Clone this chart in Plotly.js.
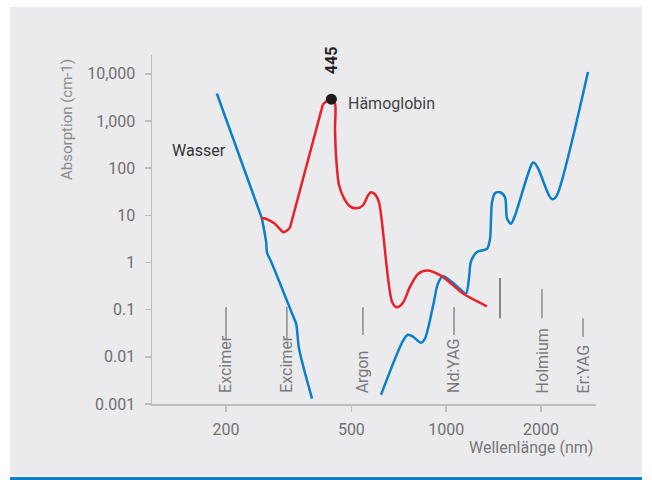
<!DOCTYPE html>
<html>
<head>
<meta charset="utf-8">
<script src="https://cdn.plot.ly/plotly-3.0.1.min.js"></script>
<style>html,body{margin:0;padding:0;background:#fff;}#chart{width:652px;height:480px;}</style>
</head>
<body>
<div id="chart"></div>
<script>
// Wasser (water) absorption, UV part
const waterUvX = [187, 260, 268, 270, 278, 326, 334, 341, 375];
const waterUvY = [3830, 8.6, 2.8, 1.6, 1.05, 0.075, 0.05, 0.015, 0.0013];
// Wasser (water) absorption, visible / IR part
const waterIrX = [621, 729, 756, 785, 832, 856, 908, 942, 977, 1043, 1106, 1156, 1182, 1198, 1252, 1347, 1377, 1387, 1398, 1428, 1482, 1537, 1560, 1606, 1654, 1873, 1900, 1956, 2136, 2183, 2247, 2819];
const waterIrY = [0.00157, 0.0219, 0.0294, 0.0267, 0.0199, 0.0242, 0.118, 0.364, 0.51, 0.385, 0.275, 0.22, 0.48, 1.05, 1.67, 1.94, 3.09, 7.7, 18.9, 29.4, 30.8, 24.2, 8.58, 6.64, 10, 125, 131, 100, 24.2, 21.9, 26.7, 11000];
// Hämoglobin absorption
const hbX = [258, 266, 286, 305, 319, 406, 431, 443.6, 443.7, 447, 457, 474, 495, 518, 544, 565, 577, 594, 612, 673, 698, 729, 768, 814, 869, 970, 1131, 1347];
const hbY = [8.6, 8.6, 6.6, 4.4, 5.4, 2260, 3015, 2371, 697, 180, 43.5, 23, 15.5, 14.1, 16.3, 26.7, 30.8, 28, 18.9, 0.148, 0.112, 0.14, 0.307, 0.57, 0.675, 0.51, 0.22, 0.118];
// Peak marker
const peakX = [432];
const peakY = [2900];
const peakLabel = "445";
// Laser wavelengths (vertical markers)
const laserNames = ["Excimer", "Excimer", "Argon", "Nd:YAG", "", "Holmium", "Er:YAG"];
const laserX = [200, 312, 544, 1059, 1482, 2014, 2718];
// Axis ticks
const xTickVals = [200, 500, 1000, 2000];
const xTickText = ["200", "500", "1000", "2000"];
const yTickVals = [0.001, 0.01, 0.1, 1, 10, 100, 1000, 10000];
const yTickText = ["0.001", "0.01", "0.1", "1", "10", "100", "1,000", "10,000"];

const BLUE = "#0a80c8", RED = "#e8212b";
const FONT = "Roboto, 'Noto Sans', sans-serif";

// marker line extents in paper coords (top, bottom)
const laserLineTop = [0.278, 0.278, 0.278, 0.278, 0.361, 0.330, 0.246];
const laserLineBot = [0.183, 0.183, 0.198, 0.198, 0.246, 0.246, 0.192];
const laserLineCol = ["#8a8a8a", "#8a8a8a", "#8a8a8a", "#8a8a8a", "#666", "#8a8a8a", "#8a8a8a"];

// draw a curve in pieces: straight runs as linear, the rest as spline
function pieces(xs, ys, color, parts) {
  return parts.map(([a, b, shape]) => ({
    x: xs.slice(a, b + 1), y: ys.slice(a, b + 1), mode: "lines", hoverinfo: "skip",
    line: {color: color, width: 2.5, shape: shape, smoothing: 0.8}
  }));
}

const traces = [].concat(
  pieces(waterUvX, waterUvY, BLUE, [[0, 1, "linear"], [1, waterUvX.length - 1, "spline"]]),
  pieces(waterIrX, waterIrY, BLUE, [[0, waterIrX.length - 1, "spline"]]),
  pieces(hbX, hbY, RED, [[0, 4, "spline"], [4, 5, "linear"], [5, hbX.length - 1, "spline"]]),
  [{x: peakX, y: peakY, mode: "markers", marker: {color: "#1a1a1a", size: 11}, hoverinfo: "skip"}]
);

const shapes = [
  {type: "rect", xref: "paper", yref: "paper", x0: -0.3198, x1: 1.1036, y0: -0.2063, y1: 1.1375, fillcolor: "#ebebed", line: {width: 0}, layer: "below"},
  {type: "rect", xref: "paper", yref: "paper", x0: -0.3198, x1: 1.1036, y0: -0.2178, y1: -0.2092, fillcolor: "#0a80c8", line: {width: 0}, layer: "below"}
];
const annotations = [
  {text: "Absorption (cm-1)", xref: "paper", yref: "paper", x: -0.1914, y: 0.814, textangle: -90, showarrow: false, font: {family: FONT, size: 15, color: "#8a8a8a"}, xanchor: "center", yanchor: "middle"},
  {text: "Wellenlänge (nm)", xref: "paper", yref: "paper", x: 0.998, y: -0.126, showarrow: false, font: {family: FONT, size: 16, color: "#777"}, xanchor: "right", yanchor: "middle"},
  {text: "Wasser", xref: "paper", yref: "paper", x: 0.106, y: 0.725, showarrow: false, font: {family: FONT, size: 16, color: "#333"}, xanchor: "center", yanchor: "middle"},
  {text: "Hämoglobin", xref: "paper", yref: "paper", x: 0.437, y: 0.86, showarrow: false, font: {family: FONT, size: 16, color: "#444"}, xanchor: "left", yanchor: "middle"},
  {text: "<b>" + peakLabel + "</b>", xref: "paper", yref: "paper", x: 0.403, y: 0.985, textangle: -90, showarrow: false, font: {family: FONT, size: 16, color: "#222"}, xanchor: "center", yanchor: "middle"}
];
laserX.forEach((wl, i) => {
  shapes.push({type: "line", xref: "x", yref: "paper", x0: wl, x1: wl, y0: laserLineBot[i], y1: laserLineTop[i], line: {color: laserLineCol[i], width: 1.5}});
  if (laserNames[i]) {
    annotations.push({text: laserNames[i], xref: "x", yref: "paper", x: Math.log10(wl), y: 0.026, textangle: -90, showarrow: false,
      font: {family: FONT, size: 16, color: "#7a7a7a"}, xanchor: "center", yanchor: "bottom"});
  }
});

const layout = {
  width: 652, height: 480,
  margin: {l: 152, r: 56, t: 55, b: 76},
  paper_bgcolor: "#ffffff",
  plot_bgcolor: "rgba(0,0,0,0)",
  showlegend: false,
  font: {family: FONT},
  xaxis: {
    type: "log", range: [2.066, 3.4756], tickvals: xTickVals, ticktext: xTickText,
    showgrid: false, zeroline: false, showline: true, linecolor: "#bdbdbd", linewidth: 1.5,
    ticks: "outside", ticklen: 6, tickwidth: 1.5, tickcolor: "#bdbdbd", ticklabelstandoff: 4,
    tickfont: {family: FONT, size: 16, color: "#707070"}
  },
  yaxis: {
    type: "log", range: [-3, 4.4], tickvals: yTickVals, ticktext: yTickText,
    showgrid: false, zeroline: false, showline: true, linecolor: "#bdbdbd", linewidth: 1.5,
    ticks: "outside", ticklen: 6, tickwidth: 1.5, tickcolor: "#bdbdbd", ticklabelstandoff: 6,
    tickfont: {family: FONT, size: 16, color: "#707070"}
  },
  shapes: shapes,
  annotations: annotations
};

Plotly.newPlot("chart", traces, layout, {staticPlot: true, displayModeBar: false});
</script>
</body>
</html>
